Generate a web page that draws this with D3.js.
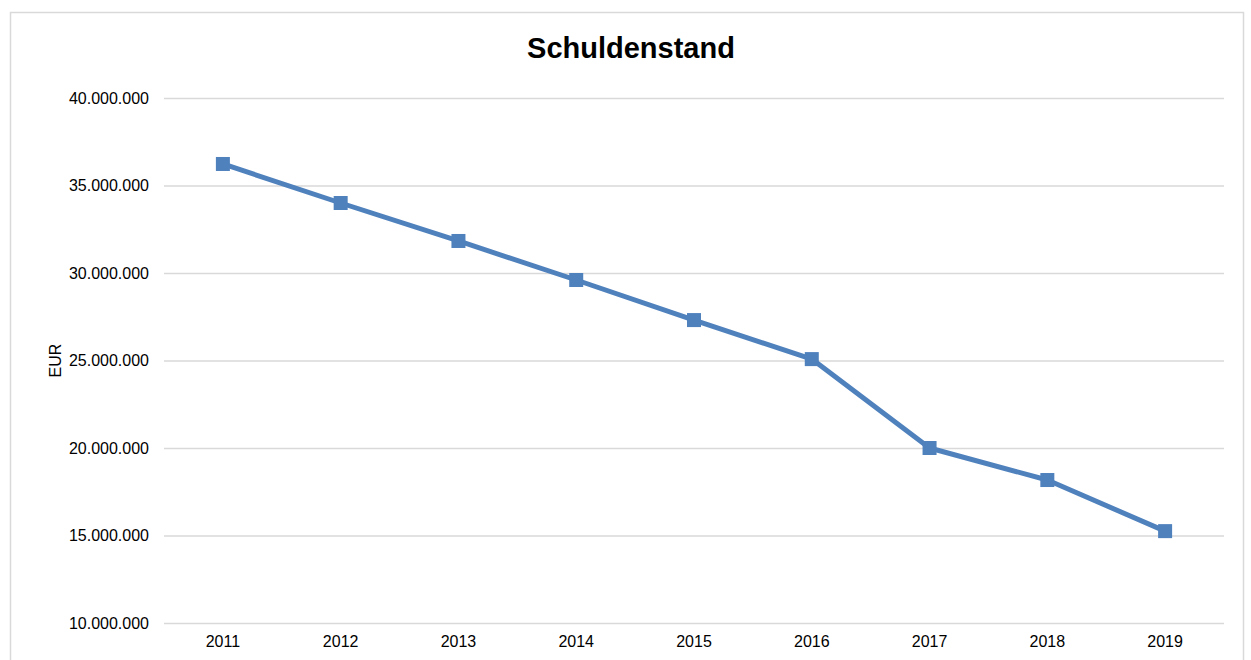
<!DOCTYPE html>
<html>
<head>
<meta charset="utf-8">
<script src="https://cdn.jsdelivr.net/npm/d3@7"></script>
<style>
  html, body { margin: 0; padding: 0; background: #fff; }
  svg { display: block; font-family: "Liberation Sans", Arial, sans-serif; }
</style>
</head>
<body>
<div id="chart"></div>
<script>
const years = ['2011', '2012', '2013', '2014', '2015', '2016', '2017', '2018', '2019'];
const debt = [36230000, 34000000, 31830000, 29600000, 27310000, 25080000, 20000000, 18170000, 15250000];
const yTicks = [10000000, 15000000, 20000000, 25000000, 30000000, 35000000, 40000000];

const W = 1251, H = 660;
const margin = { top: 98, right: 27, bottom: 37, left: 164 };
const innerW = W - margin.left - margin.right;
const innerH = H - margin.top - margin.bottom;

const svg = d3.select('#chart').append('svg')
  .attr('width', W).attr('height', H);

// outer frame
svg.append('rect')
  .attr('x', 10.5).attr('y', 12.5)
  .attr('width', 1233).attr('height', 660)
  .attr('fill', 'none').attr('stroke', '#d9d9d9').attr('stroke-width', 1.5);

svg.append('text')
  .attr('x', 631).attr('y', 58)
  .attr('text-anchor', 'middle')
  .attr('font-size', 29).attr('font-weight', 'bold').attr('fill', '#000')
  .text('Schuldenstand');

const g = svg.append('g').attr('transform', `translate(${margin.left},${margin.top})`);

const x = d3.scaleBand().domain(years).range([0, innerW]);
const y = d3.scaleLinear().domain([10000000, 40000000]).range([innerH, 0]);

const fmt = v => d3.format(',')(v).replace(/,/g, '.');

// grid + y labels
const gy = g.append('g')
  .call(d3.axisLeft(y).tickValues(yTicks).tickSize(-innerW).tickPadding(15).tickFormat(fmt));
gy.select('.domain').remove();
gy.selectAll('.tick line').attr('stroke', '#d9d9d9').attr('stroke-width', 1.5);
gy.selectAll('.tick text').attr('font-size', 16).attr('fill', '#000')
  .attr('font-family', '"Liberation Sans", Arial, sans-serif');

// x labels
const gx = g.append('g').attr('transform', `translate(0,${innerH})`)
  .call(d3.axisBottom(x).tickSize(0).tickPadding(13));
gx.select('.domain').remove();
gx.selectAll('.tick text').attr('font-size', 16).attr('fill', '#000')
  .attr('font-family', '"Liberation Sans", Arial, sans-serif');

// y title
svg.append('text')
  .attr('transform', `translate(61,${margin.top + y(25000000)}) rotate(-90)`)
  .attr('text-anchor', 'middle')
  .attr('font-size', 16).attr('fill', '#000')
  .text('EUR');

const cx = d => x(d) + x.bandwidth() / 2;

g.append('path')
  .datum(years)
  .attr('fill', 'none')
  .attr('stroke', '#4f81bd')
  .attr('stroke-width', 5)
  .attr('stroke-linejoin', 'round')
  .attr('d', d3.line().x(d => cx(d)).y((d, i) => y(debt[i])));

g.append('g').selectAll('rect')
  .data(years)
  .join('rect')
  .attr('x', d => cx(d) - 7)
  .attr('y', (d, i) => y(debt[i]) - 7)
  .attr('width', 14).attr('height', 14)
  .attr('fill', '#4f81bd');
</script>
</body>
</html>
